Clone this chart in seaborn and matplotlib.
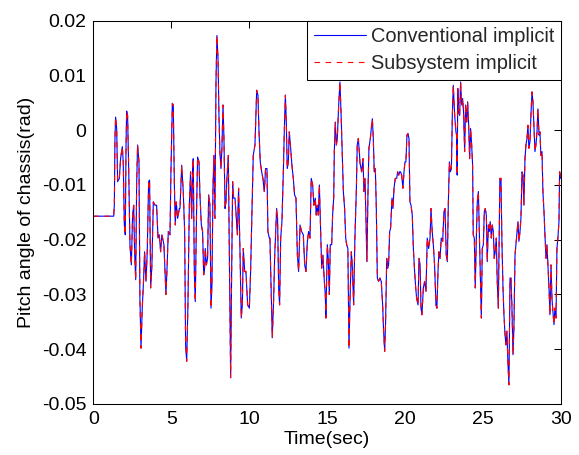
import numpy as np
import pandas as pd
import matplotlib
matplotlib.use("Agg")
import matplotlib.pyplot as plt
import seaborn as sns

# time (sec)
time_sec = [
    0.00, 1.31, 1.35, 1.39, 1.43, 1.50, 1.56, 1.67, 1.75, 1.86, 1.92, 1.99, 2.05, 2.10, 2.14, 2.20,
    2.27, 2.35, 2.44, 2.52, 2.59, 2.65, 2.72, 2.78, 2.84, 2.93, 2.99, 3.06, 3.14, 3.23, 3.29, 3.38,
    3.46, 3.55, 3.61, 3.68, 3.76, 3.85, 3.96, 4.06, 4.15, 4.23, 4.32, 4.40, 4.53, 4.66, 4.73, 4.81,
    4.92, 4.98, 5.07, 5.13, 5.20, 5.26, 5.32, 5.41, 5.52,
    5.56, 5.67, 5.77, 5.86, 5.92, 5.99, 6.07, 6.16, 6.24, 6.31, 6.37, 6.41, 6.48, 6.54, 6.63, 6.69,
    6.78, 6.84, 6.93, 7.01, 7.08, 7.14, 7.18, 7.25, 7.33, 7.40, 7.48, 7.55, 7.61, 7.68, 7.74, 7.80,
    7.87, 7.93, 8.00, 8.06, 8.12, 8.19, 8.25, 8.32, 8.38, 8.45, 8.51, 8.57, 8.66, 8.74, 8.81, 8.87,
    8.94, 9.00, 9.09, 9.15, 9.24, 9.32, 9.41, 9.49, 9.56, 9.62, 9.71, 9.79, 9.90, 10.01, 10.09, 10.18,
    10.26, 10.37, 10.48, 10.56, 10.63, 10.71, 10.80, 10.88, 10.97, 11.05, 11.14, 11.20, 11.29,
    11.33, 11.40, 11.48, 11.57, 11.63, 11.70, 11.76, 11.82, 11.89, 11.95, 12.02, 12.10, 12.19, 12.25,
    12.32, 12.38, 12.44, 12.51, 12.57, 12.66, 12.74, 12.83, 12.91, 13.00, 13.09, 13.17, 13.26, 13.36,
    13.47, 13.56, 13.64, 13.73, 13.81, 13.90, 13.98, 14.07, 14.15, 14.24, 14.30, 14.37, 14.43, 14.50,
    14.56, 14.65, 14.73, 14.82, 14.88, 14.92, 15.01, 15.07, 15.14, 15.20, 15.29, 15.35, 15.42, 15.46,
    15.52, 15.59, 15.65, 15.74, 15.82, 15.89, 15.95, 16.04, 16.12, 16.19, 16.25, 16.33, 16.40, 16.46,
    16.55, 16.61, 16.70, 16.78, 16.87, 16.93, 17.00, 17.08,
    17.10, 17.21, 17.30, 17.36, 17.43, 17.49, 17.55, 17.62, 17.68, 17.77, 17.83, 17.90, 17.96, 18.02,
    18.09, 18.15, 18.22, 18.30, 18.39, 18.47, 18.56, 18.62, 18.69, 18.75, 18.82, 18.88, 18.94, 19.01,
    19.07, 19.16, 19.22, 19.29, 19.37, 19.46, 19.52, 19.59, 19.65, 19.71, 19.78, 19.86, 19.93, 19.99,
    20.05, 20.12, 20.18, 20.25, 20.31, 20.38, 20.46, 20.53, 20.61, 20.68, 20.74, 20.83, 20.89, 20.96,
    21.02, 21.08, 21.17, 21.25, 21.34, 21.42, 21.51, 21.60, 21.66, 21.74, 21.81, 21.89, 21.98, 22.04,
    22.11, 22.17, 22.24, 22.32, 22.41, 22.49, 22.56, 22.64, 22.71, 22.77, 22.84,
    22.90, 22.97, 23.03, 23.09, 23.18, 23.26, 23.30, 23.34, 23.38, 23.43, 23.50, 23.56, 23.63, 23.69,
    23.75, 23.82, 23.88, 23.95, 24.01, 24.07, 24.14, 24.20, 24.27, 24.33, 24.37, 24.44, 24.50, 24.57,
    24.63, 24.70, 24.76, 24.82, 24.89, 24.95, 25.02, 25.08, 25.14, 25.21, 25.27, 25.34, 25.40, 25.46,
    25.53, 25.59, 25.66, 25.72, 25.78, 25.85, 25.91, 25.98, 26.04, 26.08, 26.15, 26.21, 26.28, 26.34,
    26.41, 26.47, 26.53, 26.60, 26.66, 26.73, 26.79, 26.85, 26.92, 26.98, 27.05, 27.11, 27.18, 27.24,
    27.30, 27.37, 27.43, 27.50, 27.56, 27.62, 27.69, 27.75, 27.82, 27.88, 27.94, 28.01, 28.07, 28.14,
    28.20, 28.27, 28.33, 28.39, 28.46, 28.52, 28.59, 28.65, 28.71, 28.78, 28.84, 28.91, 28.97, 29.04,
    29.10, 29.16, 29.23, 29.29, 29.36, 29.42, 29.48, 29.55, 29.61, 29.68, 29.74, 29.80, 29.87, 29.91,
    29.95, 30.00,
]

# pitch angle of chassis (rad), conventional implicit solver
pitch_conventional = [
    -0.0157, -0.0157, -0.0135, -0.0015, 0.0024, 0.0003, -0.0094, -0.0088, -0.0052, -0.0030, -0.0058,
    -0.0173, -0.0191, -0.0027, 0.0035, 0.0027, -0.0070, -0.0209, -0.0246, -0.0155, -0.0137, -0.0222,
    -0.0273, -0.0100, -0.0027, -0.0058, -0.0307, -0.0398, -0.0325, -0.0270, -0.0222, -0.0276, -0.0222,
    -0.0094, -0.0091, -0.0288, -0.0246, -0.0131, -0.0137, -0.0137, -0.0197, -0.0191, -0.0222, -0.0191,
    -0.0209, -0.0300, -0.0252, -0.0185, -0.0191, -0.0076, 0.0049, 0.0046, -0.0100, -0.0173, -0.0131,
    -0.0161, -0.0143,
    -0.0143, -0.0064, -0.0112, -0.0185, -0.0392, -0.0422, -0.0319, -0.0137, -0.0076, -0.0161, -0.0076,
    -0.0052, -0.0258, -0.0313, -0.0137, -0.0049, -0.0058, -0.0118, -0.0173, -0.0185, -0.0264, -0.0252,
    -0.0216, -0.0246, -0.0234, -0.0118, -0.0137, -0.0325, -0.0282, -0.0100, -0.0046, -0.0161, 0.0088,
    0.0173, 0.0131, 0.0027, -0.0039, -0.0070, -0.0033, 0.0046, -0.0015, -0.0143, -0.0131, -0.0088,
    -0.0046, -0.0264, -0.0452, -0.0270, -0.0094, -0.0124, -0.0124, -0.0149, -0.0191, -0.0106, -0.0222,
    -0.0343, -0.0319, -0.0216, -0.0258, -0.0258, -0.0319, -0.0325, -0.0258, -0.0149, -0.0046, -0.0027,
    0.0073, 0.0064, -0.0003, -0.0058, -0.0076, -0.0088, -0.0112, -0.0070, -0.0070, -0.0185, -0.0197,
    -0.0197, -0.0282, -0.0379, -0.0307, -0.0234, -0.0185, -0.0143, -0.0161, -0.0288, -0.0319, -0.0197,
    -0.0167, -0.0076, -0.0003, 0.0064, 0.0015, -0.0070, -0.0058, -0.0003, -0.0033, -0.0064, -0.0088,
    -0.0118, -0.0124, -0.0228, -0.0258, -0.0173, -0.0185, -0.0191, -0.0246, -0.0258, -0.0203, -0.0185,
    -0.0197, -0.0088, -0.0100, -0.0137, -0.0124, -0.0155, -0.0137, -0.0155, -0.0100, -0.0161, -0.0252,
    -0.0228, -0.0276, -0.0300, -0.0343, -0.0209, -0.0234, -0.0300, -0.0209, -0.0209, -0.0155, -0.0124,
    -0.0039, 0.0015, -0.0027, -0.0015, 0.0046, 0.0088, 0.0033, -0.0027, -0.0112, -0.0143, -0.0197,
    -0.0209, -0.0216, -0.0398, -0.0319, -0.0222, -0.0246, -0.0319, -0.0197, -0.0112, -0.0027, -0.0015,
    -0.0046,
    -0.0058, -0.0076, -0.0052, -0.0112, -0.0088, -0.0167, -0.0240, -0.0112, -0.0033, -0.0015, 0.0003,
    0.0021, -0.0015, -0.0076, -0.0070, -0.0137, -0.0270, -0.0276, -0.0270, -0.0276, -0.0319, -0.0367,
    -0.0404, -0.0349, -0.0234, -0.0252, -0.0246, -0.0185, -0.0179, -0.0124, -0.0143, -0.0106, -0.0088,
    -0.0088, -0.0076, -0.0082, -0.0076, -0.0076, -0.0082, -0.0106, -0.0076, -0.0058, -0.0058, -0.0009,
    -0.0006, -0.0015, -0.0131, -0.0137, -0.0155, -0.0216, -0.0258, -0.0288, -0.0307, -0.0319, -0.0234,
    -0.0246, -0.0325, -0.0337, -0.0288, -0.0276, -0.0294, -0.0197, -0.0216, -0.0197, -0.0143, -0.0185,
    -0.0209, -0.0246, -0.0319, -0.0325, -0.0258, -0.0222, -0.0234, -0.0197, -0.0203, -0.0149, -0.0143,
    -0.0228, -0.0240, -0.0137, -0.0058,
    -0.0076, -0.0070, 0.0027, 0.0082, 0.0027, -0.0003, -0.0009, -0.0082, 0.0076, 0.0033, 0.0027,
    0.0088, 0.0046, 0.0058, 0.0033, -0.0039, 0.0046, 0.0015, 0.0052, 0.0015, -0.0052, 0.0003, -0.0027,
    -0.0064, -0.0191, -0.0197, -0.0288, -0.0197, -0.0131, -0.0112, -0.0185, -0.0258, -0.0343, -0.0216,
    -0.0209, -0.0149, -0.0143, -0.0155, -0.0240, -0.0173, -0.0185, -0.0167, -0.0197, -0.0173, -0.0185,
    -0.0234, -0.0222, -0.0197, -0.0276, -0.0325, -0.0185, -0.0088, -0.0088, -0.0203, -0.0288, -0.0337,
    -0.0373, -0.0392, -0.0367, -0.0428, -0.0465, -0.0270, -0.0270, -0.0319, -0.0410, -0.0361, -0.0228,
    -0.0209, -0.0185, -0.0167, -0.0203, -0.0185, -0.0161, -0.0076, -0.0082, -0.0137, -0.0052, -0.0027,
    -0.0015, 0.0009, -0.0033, -0.0021, 0.0027, 0.0070, 0.0052, 0.0003, -0.0039, -0.0027, -0.0003,
    0.0039, -0.0009, -0.0003, -0.0046, -0.0039, -0.0112, -0.0149, -0.0191, -0.0234, -0.0209, -0.0246,
    -0.0288, -0.0337, -0.0246, -0.0307, -0.0331, -0.0355, -0.0325, -0.0343, -0.0216, -0.0197, -0.0167,
    -0.0076, -0.0088, -0.0080,
]

# subsystem implicit solver lies on top of the conventional one
pitch_subsystem = list(pitch_conventional)

x_ticks = [0, 5, 10, 15, 20, 25, 30]
y_ticks = [-0.05, -0.04, -0.03, -0.02, -0.01, 0, 0.01, 0.02]
y_tick_labels = ["-0.05", "-0.04", "-0.03", "-0.02", "-0.01", "0", "0.01", "0.02"]

df = pd.DataFrame({
    "t": time_sec,
    "conv": pitch_conventional,
    "sub": pitch_subsystem,
})

sns.set_theme(style="white")
plt.rcParams["font.family"] = ["Liberation Sans", "DejaVu Sans"]
plt.rcParams["axes.unicode_minus"] = False

fig = plt.figure(figsize=(5.79, 4.55), dpi=100)
ax = fig.add_axes([93.3 / 579, 1 - 404 / 455, (561 - 93.3) / 579, (404 - 20.7) / 455])

sns.lineplot(data=df, x="t", y="conv", ax=ax, color="#0000ff", linewidth=0.8,
             sort=False, estimator=None, label="Conventional implicit")
sns.lineplot(data=df, x="t", y="sub", ax=ax, color="#ff0000", linewidth=0.8,
             sort=False, estimator=None, label="Subsystem implicit")
ax.lines[1].set_linestyle((0, (5, 5)))

ax.set_xlim(0, 30)
ax.set_ylim(-0.05, 0.02)
ax.set_xticks(x_ticks)
ax.set_yticks(y_ticks)
ax.set_yticklabels(y_tick_labels)
ax.set_xlabel("Time(sec)", fontsize=14, color="black", labelpad=2)
ax.set_ylabel("Pitch angle of chassis(rad)", fontsize=14, color="black", labelpad=5)

ax.tick_params(direction="in", length=5, width=0.75, top=True, right=True,
               labelsize=14, colors="black", pad=5)
for s in ax.spines.values():
    s.set_color("black")
    s.set_linewidth(0.75)

leg = ax.legend(loc="upper right", borderaxespad=0, fontsize=14.4, fancybox=False,
                framealpha=1, edgecolor="black", handlelength=2.6, handletextpad=0.25,
                borderpad=0.33, labelspacing=0.4)
leg.get_frame().set_linewidth(0.75)

fig.savefig("out.png", dpi=100)
